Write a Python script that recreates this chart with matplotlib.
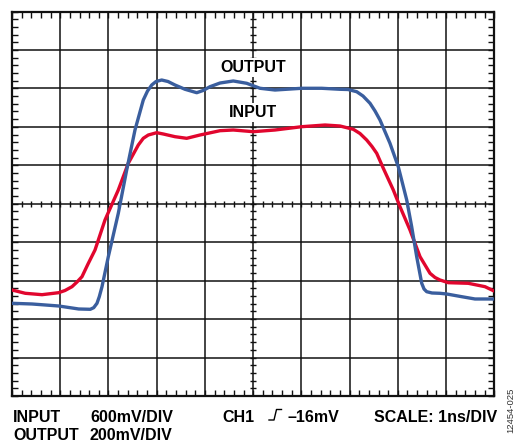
import matplotlib
matplotlib.use("Agg")
import matplotlib.pyplot as plt
from matplotlib.lines import Line2D
import numpy as np

# Time axis in ns (1 ns/DIV), traces in screen divisions relative to the centre graticule
output_t = [0.000, 0.415, 0.968, 1.383, 1.623, 1.694, 1.762, 1.810, 1.866, 1.997,
            2.204, 2.378, 2.550, 2.722, 2.810, 2.897, 2.986, 3.104, 3.235, 3.380,
            3.587, 3.830, 3.960, 4.105, 4.313, 4.588, 4.866, 5.142, 5.453, 6.007,
            6.421, 6.801, 6.967, 7.147, 7.278, 7.423, 7.527, 7.630, 7.837, 8.009,
            8.184, 8.287, 8.391, 8.495, 8.543, 8.598, 8.708, 8.874, 9.013, 9.324,
            9.600, 9.994]
output_div = [-2.589, -2.607, -2.659, -2.737, -2.745, -2.703, -2.589, -2.417, -2.157, -1.377,
              -0.248, 0.878, 1.918, 2.698, 2.932, 3.088, 3.179, 3.218, 3.179, 3.088,
              2.977, 2.888, 2.945, 3.044, 3.140, 3.193, 3.133, 3.003, 2.958, 3.003,
              3.003, 2.977, 2.971, 2.914, 2.802, 2.613, 2.412, 2.178, 1.572, 0.964,
              0.098, -0.597, -1.377, -2.069, -2.217, -2.287, -2.321, -2.329, -2.347, -2.417,
              -2.477, -2.477]

input_t = [0.000, 0.276, 0.622, 0.968, 1.099, 1.244, 1.348, 1.451, 1.576, 1.721,
           1.928, 2.204, 2.411, 2.619, 2.722, 2.826, 3.000, 3.137, 3.380, 3.622,
           3.898, 4.313, 4.588, 5.003, 5.453, 6.007, 6.490, 6.801, 7.077, 7.215,
           7.354, 7.464, 7.562, 7.699, 7.906, 8.045, 8.252, 8.460, 8.667, 8.771,
           8.874, 9.046, 9.461, 9.807, 9.994]
input_div = [-2.243, -2.329, -2.365, -2.313, -2.256, -2.157, -2.035, -1.897, -1.567, -1.203,
             -0.423, 0.358, 1.052, 1.528, 1.702, 1.788, 1.848, 1.814, 1.744, 1.702,
             1.788, 1.900, 1.918, 1.874, 1.918, 2.004, 2.048, 2.022, 1.936, 1.827,
             1.658, 1.489, 1.312, 0.922, 0.358, -0.077, -0.683, -1.377, -1.809, -1.918,
             -1.983, -2.053, -2.069, -2.157, -2.269]

trace_labels = ["OUTPUT", "INPUT"]
label_div = [3.54, 2.37]
footer_left = [("INPUT", "600mV/DIV"), ("OUTPUT", "200mV/DIV")]
trigger_channel = "CH1"
trigger_level = "\u201316mV"
time_scale = "SCALE: 1ns/DIV"
figure_id = "12454-025"

W, H = 515, 442
BLUE = "#3A5E9E"
RED = "#E1062E"
FONT = "Liberation Sans"
FS = 11.5

fig = plt.figure(figsize=(W / 100, H / 100), dpi=100)
ax = fig.add_axes([12 / W, (H - 396) / H, 482.3 / W, 384.5 / H])
ax.set_xlim(0, 10)
ax.set_ylim(-5, 5)


def fpos(x, y):
    return x / W, 1 - y / H


# graticule
for v in range(1, 10):
    ax.axvline(v, color="#111111", lw=1.1, zorder=1)
for v in range(-4, 5):
    ax.axhline(v, color="#111111", lw=1.1, zorder=1)
for s in ax.spines.values():
    s.set_linewidth(1.6)
    s.set_color("#111111")

minor = np.arange(0, 10.01, 0.2)
ax.set_xticks(minor, minor=True)
ax.set_yticks(np.arange(-5, 5.01, 0.2), minor=True)
ax.set_xticks([])
ax.set_yticks([])
ax.tick_params(which="minor", direction="in", length=4, width=1.0, color="#111111",
               top=True, bottom=True, left=True, right=True,
               labeltop=False, labelbottom=False, labelleft=False, labelright=False)

# centre-line ticks
cx = np.arange(0.2, 10, 0.2)
ax.plot(cx, np.zeros_like(cx), ls="none", marker="|", ms=5, mew=1.0, color="#111111", zorder=1)
cy = np.arange(-4.8, 5, 0.2)
ax.plot(np.full_like(cy, 5.0), cy, ls="none", marker="_", ms=5, mew=1.0, color="#111111", zorder=1)

# traces
ax.plot(input_t, input_div, color=RED, lw=2.4, solid_joinstyle="round",
        solid_capstyle="round", zorder=3)
ax.plot(output_t, output_div, color=BLUE, lw=2.4, solid_joinstyle="round",
        solid_capstyle="round", zorder=4)

for lab, yv in zip(trace_labels, label_div):
    ax.text(5.0, yv, lab, ha="center", va="center", fontsize=FS, fontweight="bold",
            family=FONT, zorder=5,
            bbox=dict(boxstyle="square,pad=0.12", fc="white", ec="none"))

# footer
for i, (name, scale) in enumerate(footer_left):
    yb = 421.5 + i * 18.5
    fig.text(*fpos(13, yb), name, ha="left", va="baseline", fontsize=FS,
             fontweight="bold", family=FONT)
    fig.text(*fpos(90, yb), scale, ha="left", va="baseline", fontsize=FS,
             fontweight="bold", family=FONT)

fig.text(*fpos(222, 421.5), trigger_channel, ha="left", va="baseline", fontsize=FS,
         fontweight="bold", family=FONT)
sym_x = [269, 274, 276.5, 281.5]
sym_y = [420, 420, 409.5, 409.5]
fig.add_artist(Line2D([x / W for x in sym_x], [1 - y / H for y in sym_y],
                      color="black", lw=1.0, transform=fig.transFigure))
fig.text(*fpos(287, 421.5), trigger_level, ha="left", va="baseline", fontsize=FS,
         fontweight="bold", family=FONT)
fig.text(*fpos(497.5, 421.5), time_scale, ha="right", va="baseline", fontsize=FS,
         fontweight="bold", family=FONT)

fig.text(*fpos(511, 410), figure_id, ha="center", va="center", rotation=90,
         fontsize=6.8, color="#333333", family=FONT)

fig.savefig("out.png", dpi=100)
